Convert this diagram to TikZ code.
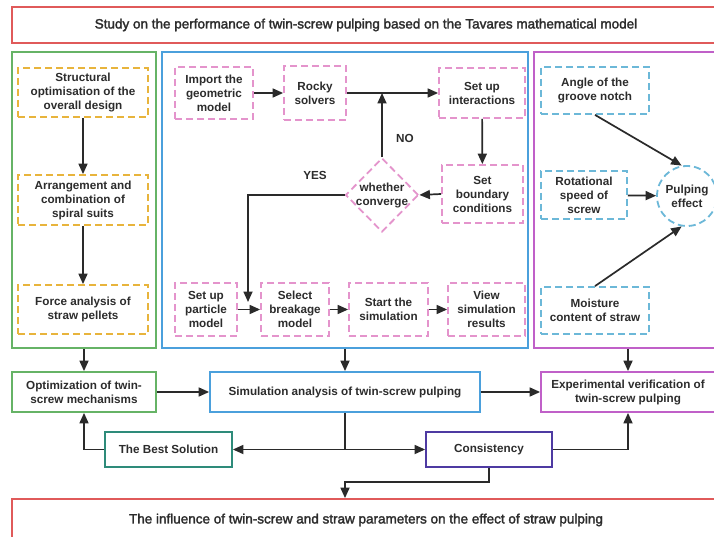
\documentclass[tikz,border=0pt]{standalone}
\usepackage{fontspec}
\setmainfont{Liberation Sans}
\newfontfamily\headfont[FakeBold=2]{Liberation Sans}
\usetikzlibrary{shapes.geometric,arrows.meta}
\definecolor{cred}{HTML}{E05A5A}
\definecolor{cgreen}{HTML}{66B366}
\definecolor{cblue}{HTML}{4BA0DC}
\definecolor{cpurple}{HTML}{C060C8}
\definecolor{corange}{HTML}{E8B43C}
\definecolor{cpink}{HTML}{E494CC}
\definecolor{clblue}{HTML}{6CB8D8}
\definecolor{cteal}{HTML}{2E8B7A}
\definecolor{cviolet}{HTML}{4E3AA2}
\definecolor{ctext}{HTML}{2C2C2C}
\definecolor{carrow}{HTML}{2A2A2A}
\begin{document}
\begin{tikzpicture}[x=1pt,y=-1pt,
  every node/.style={text=ctext, inner sep=0pt, align=center},
  boxtxt/.style={font=\bfseries\fontsize{11.7}{14}\selectfont},
  panel/.style={draw, line width=1.8pt, rectangle},
  dbox/.style={boxtxt, draw, dash pattern=on 7pt off 4pt, line width=1.8pt, rectangle},
  sbox/.style={boxtxt, draw, line width=1.8pt, rectangle},
  headbox/.style={draw=cred, line width=1.8pt, rectangle, font=\headfont\fontsize{13.5}{16}\selectfont},
  arr/.style={draw=carrow, line width=1.7pt, -{Triangle[length=10.5pt,width=9pt]}},
  ln/.style={draw=carrow, line width=1.7pt},
]
\useasboundingbox (0,0) rectangle (714,537);
\clip (0,0) rectangle (714,537);
\fill[white] (0,0) rectangle (714,537);

% title
\node[headbox, minimum width=708, minimum height=36] (title) at (366,25) {Study on the performance of twin-screw pulping based on the Tavares mathematical model};

% panels
\node[panel, draw=cgreen, minimum width=144, minimum height=296] (gp) at (84,200) {};
\node[panel, draw=cblue, minimum width=366, minimum height=296] (bp) at (345,200) {};
\node[panel, draw=cpurple, minimum width=188, minimum height=296] (pp) at (628,200) {};

% left panel
\node[dbox, draw=corange, minimum width=130, minimum height=49] (s1) at (83,92.5) {Structural\\optimisation of the\\overall design};
\node[dbox, draw=corange, minimum width=130, minimum height=50] (s2) at (83,200) {Arrangement and\\combination of\\spiral suits};
\node[dbox, draw=corange, minimum width=130, minimum height=49] (s3) at (83,309.5) {Force analysis of\\straw pellets};
\draw[arr] (s1) -- (s2);
\draw[arr] (s2) -- (s3);

% middle panel
\node[dbox, draw=cpink, minimum width=78, minimum height=52] (imp) at (214,93) {Import the\\geometric\\model};
\node[dbox, draw=cpink, minimum width=62, minimum height=54] (rocky) at (315,93) {Rocky\\solvers};
\node[dbox, draw=cpink, minimum width=86, minimum height=50] (inter) at (482,93) {Set up\\interactions};
\node[dbox, draw=cpink, minimum width=81, minimum height=58] (bnd) at (482.5,194) {Set\\boundary\\conditions};
\node[diamond, draw=cpink, dash pattern=on 7pt off 4pt, line width=1.8pt, minimum width=73, minimum height=74] (dec) at (382,195) {};
\node[boxtxt] (dect) at (382,196) {whether\\converge};
\node[dbox, draw=cpink, minimum width=62, minimum height=53] (part) at (206,309.5) {Set up\\particle\\model};
\node[dbox, draw=cpink, minimum width=68, minimum height=53] (brk) at (295,309.5) {Select\\breakage\\model};
\node[dbox, draw=cpink, minimum width=79, minimum height=53] (sta) at (388.5,309.5) {Start the\\simulation};
\node[dbox, draw=cpink, minimum width=77, minimum height=53] (vw) at (486.5,309.5) {View\\simulation\\results};
\node[boxtxt] (no) at (405,138) {NO};
\node[boxtxt] (yes) at (315,175) {YES};
\coordinate (yesend) at (248,302);

\draw[arr] (imp) -- (rocky);
\draw[arr] (rocky) -- (inter);
\draw[arr] (inter) -- (bnd);
\draw[arr] (bnd.west) -- (dec.east);
\draw[arr] (dec.north) -- (dec.north |- rocky.east);
\draw[arr] (dec.west) -| (yesend);
\draw[arr] (part) -- (brk);
\draw[arr] (brk) -- (sta);
\draw[arr] (sta) -- (vw);

% right panel
\node[dbox, draw=clblue, minimum width=108, minimum height=47] (ang) at (595,90.5) {Angle of the\\groove notch};
\node[dbox, draw=clblue, minimum width=86, minimum height=48] (rot) at (584,195) {Rotational\\speed of\\screw};
\node[dbox, draw=clblue, minimum width=108, minimum height=47] (moi) at (595,310.5) {Moisture\\content of straw};
\node[circle, boxtxt, draw=clblue, dash pattern=on 7pt off 4pt, line width=1.8pt, minimum size=60] (pe) at (687,196) {Pulping\\effect};
\draw[arr] (ang.south) -- (pe.100);
\draw[arr] (rot) -- (pe);
\draw[arr] (moi.north) -- (pe.260);

% bottom section
\node[sbox, draw=cgreen, minimum width=144, minimum height=40] (opt) at (84,392) {Optimization of twin-\\screw mechanisms};
\node[sbox, draw=cblue, minimum width=270, minimum height=40] (sim) at (345,392) {Simulation analysis of twin-screw pulping};
\node[sbox, draw=cpurple, minimum width=174, minimum height=40] (exp) at (628,392) {Experimental verification of\\twin-screw pulping};
\node[sbox, draw=cteal, minimum width=127, minimum height=35] (best) at (168.5,449.5) {The Best Solution};
\node[sbox, draw=cviolet, minimum width=126, minimum height=35] (cons) at (489,449.5) {Consistency};
\node[headbox, minimum width=708, minimum height=42] (fin) at (366,520) {The influence of twin-screw and straw parameters on the effect of straw pulping};

\draw[arr] (gp.south) -- (opt.north);
\draw[arr] (bp.south) -- (sim.north);
\draw[arr] (pp.south) -- (exp.north);
\draw[arr] (opt) -- (sim);
\draw[arr] (sim) -- (exp);
\coordinate (j) at (sim.south |- best.east);
\draw[ln] (sim.south) -- (j);
\draw[arr] (j) -- (best.east);
\draw[arr] (j) -- (cons.west);
\draw[arr] (best.west) -| (opt.south);
\draw[arr] (cons.east) -| (exp.south);
\coordinate (k) at (345,482);
\draw[arr] (cons.south) |- (k) -- (k |- fin.north);
\end{tikzpicture}
\end{document}
